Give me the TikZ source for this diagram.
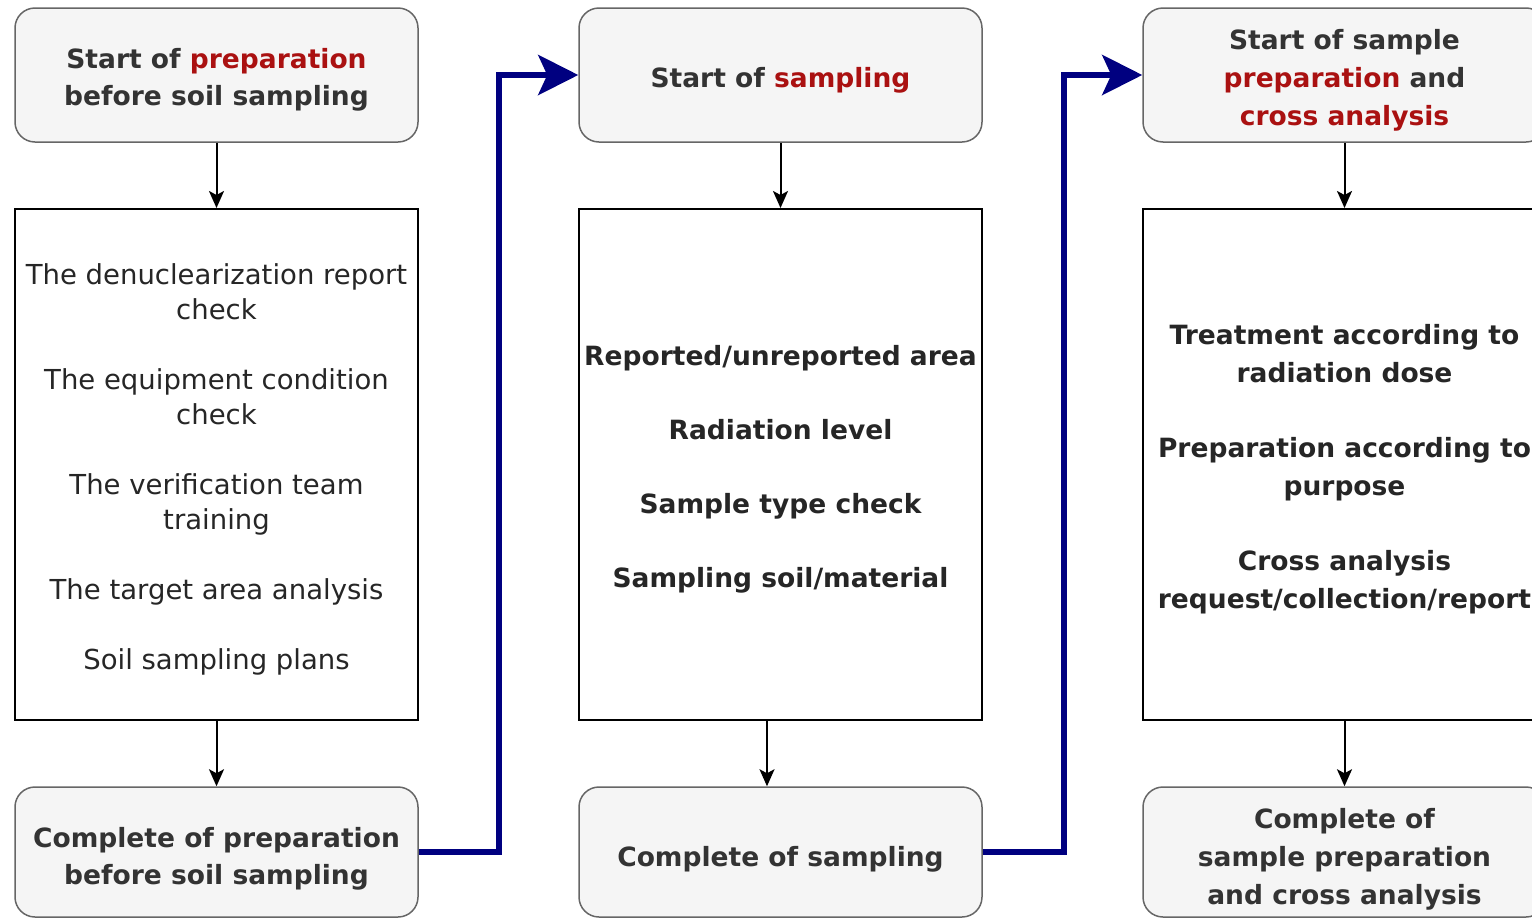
\documentclass[tikz,border=0pt]{standalone}
\usepackage{fontspec}
\setmainfont{DejaVu Sans}
\usetikzlibrary{arrows.meta}
\definecolor{boxfill}{HTML}{F5F5F5}
\definecolor{boxline}{HTML}{666666}
\definecolor{txt}{HTML}{333333}
\definecolor{hl}{HTML}{AA1111}
\definecolor{navyline}{HTML}{000080}
\begin{document}
\begin{tikzpicture}[x=1pt,y=-1pt,
  roundbox/.style={draw=boxline, fill=boxfill, line width=1.5pt, rounded corners=20pt,
    minimum width=403pt, minimum height=134pt, inner sep=0pt},
  endbox/.style={roundbox, minimum height=130pt},
  listbox/.style={draw=black, fill=white, line width=2pt, minimum width=403pt,
    minimum height=511pt, inner sep=0pt},
  boldtext/.style={align=center, text=txt, inner sep=0pt,
    font=\fontsize{26.5}{37}\selectfont\bfseries},
  plaintext/.style={align=center, text=black!85, inner sep=0pt,
    font=\fontsize{27.5}{35}\selectfont},
  listtext/.style={boldtext, text=black!85},
  flow/.style={-{Stealth[length=17pt,width=15pt,inset=4pt]}, line width=2pt},
  link/.style={draw=navyline, line width=6pt, line join=miter,
    -{Stealth[length=40pt,width=40pt,inset=9pt]}}]
\useasboundingbox (0,0) rectangle (1532,919);
\clip (0,0) rectangle (1532,919);

% column 1
\node[roundbox] (s1) at (216.5,75) {};
\node[boldtext] (s1t) at (216.5,80) {Start of \textcolor{hl}{preparation}\\before soil sampling};
\node[listbox] (l1) at (216.5,464.5) {};
\node[plaintext] (l1t) at (216.5,469.5)
  {The denuclearization report\\check\\[35pt]The equipment condition\\check\\[35pt]The verification team\\training\\[35pt]The target area analysis\\[35pt]Soil sampling plans};
\node[endbox] (e1) at (216.5,852) {};
\node[boldtext] (e1t) at (216.5,859) {Complete of preparation\\before soil sampling};

% column 2
\node[roundbox] (s2) at (780.5,75) {};
\node[boldtext] (s2t) at (780.5,80) {Start of \textcolor{hl}{sampling}};
\node[listbox] (l2) at (780.5,464.5) {};
\node[listtext] (l2t) at (780.5,469)
  {Reported/unreported area\\[37pt]Radiation level\\[37pt]Sample type check\\[37pt]Sampling soil/material};
\node[endbox] (e2) at (780.5,852) {};
\node[boldtext] (e2t) at (780.5,859) {Complete of sampling};

% column 3
\node[roundbox] (s3) at (1344.5,75) {};
\node[boldtext, font=\fontsize{26.5}{38}\selectfont\bfseries] (s3t) at (1344.5,80)
  {Start of sample\\\textcolor{hl}{preparation} and\\\textcolor{hl}{cross analysis}};
\node[listbox] (l3) at (1344.5,464.5) {};
\node[listtext, font=\fontsize{26.5}{38}\selectfont\bfseries] (l3t) at (1344.5,469.5)
  {Treatment according to\\radiation dose\\[37pt]Preparation according to\\purpose\\[37pt]Cross analysis\\request/collection/report};
\node[endbox] (e3) at (1344.5,852) {};
\node[boldtext, font=\fontsize{26.5}{38}\selectfont\bfseries] (e3t) at (1344.5,859)
  {Complete of\\sample preparation\\and cross analysis};

% vertical flow arrows
\draw[flow] (s1) -- (l1);
\draw[flow] (l1) -- (e1);
\draw[flow] (s2) -- (l2);
\draw[flow] ([xshift=-13.5pt]l2.south) -- ([xshift=-13.5pt]e2.north);
\draw[flow] (s3) -- (l3);
\draw[flow] (l3) -- (e3);

% links between columns
\draw[link] (e1.east) -- ++(80,0) |- (s2.west);
\draw[link] (e2.east) -- ++(81,0) |- (s3.west);
\end{tikzpicture}
\end{document}
